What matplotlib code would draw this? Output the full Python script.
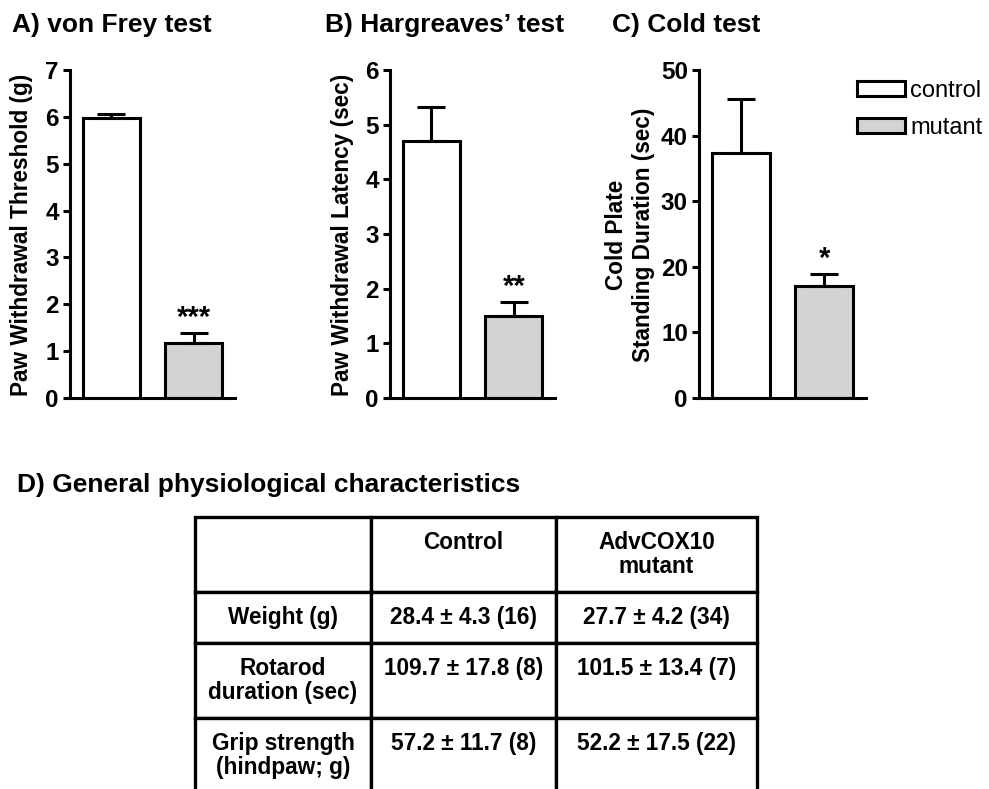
import matplotlib
matplotlib.use("Agg")
import matplotlib.pyplot as plt
from matplotlib.patches import Patch

plt.rcParams['font.family'] = ['Liberation Sans', 'DejaVu Sans']
plt.rcParams['font.weight'] = 'bold'

W, H = 989, 789

groups = ["control", "mutant"]
bar_colors = ["white", "#d3d3d3"]

# bar panels: means and upper SEM
vf_means = [5.97, 1.17]
vf_errs = [0.10, 0.22]
hg_means = [4.70, 1.50]
hg_errs = [0.63, 0.26]
cold_means = [37.4, 17.0]
cold_errs = [8.2, 1.9]

# table D: mean, sd, n
row_names = ["Weight (g)", "Rotarod\nduration (sec)", "Grip strength\n(hindpaw; g)"]
col_names = ["Control", "AdvCOX10\nmutant"]
ctrl_mean = [28.4, 109.7, 57.2]
ctrl_sd = [4.3, 17.8, 11.7]
ctrl_n = [16, 8, 8]
mut_mean = [27.7, 101.5, 52.2]
mut_sd = [4.2, 13.4, 17.5]
mut_n = [34, 7, 22]


def fx(x):
    return x / W


def fy(y):
    return 1 - y / H


fig = plt.figure(figsize=(W / 100, H / 100), dpi=100)

panels = [
    # left px, right px, means, errs, ymax, step, title, title x, ylabel, label x, stars
    (70, 235, vf_means, vf_errs, 7, 1, "A) von Frey test", 12,
     "Paw Withdrawal Threshold (g)", 22, "***"),
    (390, 555, hg_means, hg_errs, 6, 1, "B) Hargreaves\u2019 test", 325,
     "Paw Withdrawal Latency (sec)", 343, "**"),
    (699, 866, cold_means, cold_errs, 50, 10, "C) Cold test", 612,
     "Cold Plate\nStanding Duration (sec)", 630, "*"),
]

lw = 2.2
for left, right, means, errs, ymax, step, title, tx, ylabel, lx, star in panels:
    ax = fig.add_axes([fx(left), fy(398), (right - left) / W, (398 - 70) / H])
    ax.bar([0, 1], means, width=0.69, color=bar_colors, edgecolor="black",
           linewidth=lw, zorder=2)
    ax.errorbar([0, 1], means, yerr=[[0, 0], errs], fmt="none", ecolor="black",
                elinewidth=lw, capsize=10, capthick=lw, zorder=3)
    ax.set_xlim(-0.5, 1.5)
    ax.set_ylim(0, ymax)
    ax.set_yticks(range(0, ymax + 1, step))
    ax.set_xticks([])
    for s in ["top", "right"]:
        ax.spines[s].set_visible(False)
    for s in ["left", "bottom"]:
        ax.spines[s].set_linewidth(lw)
    ax.tick_params(axis="y", length=5, width=lw, labelsize=17.5, pad=3)
    ax.annotate(star, (1, means[1] + errs[1]), xytext=(0, 5),
                textcoords="offset points", ha="center", va="baseline",
                fontsize=21, fontweight="bold")
    fig.text(fx(tx), fy(25), title, fontsize=19, fontweight="bold",
             ha="left", va="center")
    fig.text(fx(lx), fy(235), ylabel, fontsize=16.3, fontweight="bold",
             rotation=90, ha="center", va="center", multialignment="center")

    if star == "*":
        handles = [Patch(facecolor=c, edgecolor="black", linewidth=lw)
                   for c in bar_colors]
        fig.legend(handles, groups, loc="upper left",
                   bbox_to_anchor=(fx(857), fy(80)), frameon=False,
                   prop={"weight": "normal", "size": 17}, handlelength=2.05,
                   handleheight=0.6, handletextpad=0.2, labelspacing=0.62,
                   borderpad=0, borderaxespad=0)

fig.text(fx(17), fy(485), "D) General physiological characteristics",
         fontsize=19, fontweight="bold", ha="left", va="center")

# table
cells = [[""] + [c if "\n" in c else c + "\n" for c in col_names]]
for i, name in enumerate(row_names):
    pad = "\n" if "\n" in name else ""
    cells.append([
        name,
        f"{ctrl_mean[i]} \u00b1 {ctrl_sd[i]} ({ctrl_n[i]})" + pad,
        f"{mut_mean[i]} \u00b1 {mut_sd[i]} ({mut_n[i]})" + pad,
    ])

col_px = [176, 185, 201]
row_px = [75, 51, 75, 75]
tax = fig.add_axes([fx(195), fy(517 + sum(row_px)), sum(col_px) / W, sum(row_px) / H])
tax.axis("off")
table = tax.table(cellText=cells, cellLoc="center", bbox=[0, 0, 1, 1])
table.auto_set_font_size(False)
table.set_fontsize(16.3)
for (r, c), cell in table.get_celld().items():
    cell.set_width(col_px[c] / sum(col_px))
    cell.set_height(row_px[r] / sum(row_px))
    cell.set_linewidth(2.4)
    cell.get_text().set_fontweight("bold")
    cell.get_text().set_linespacing(1.1)

fig.savefig("out.png", dpi=100)
